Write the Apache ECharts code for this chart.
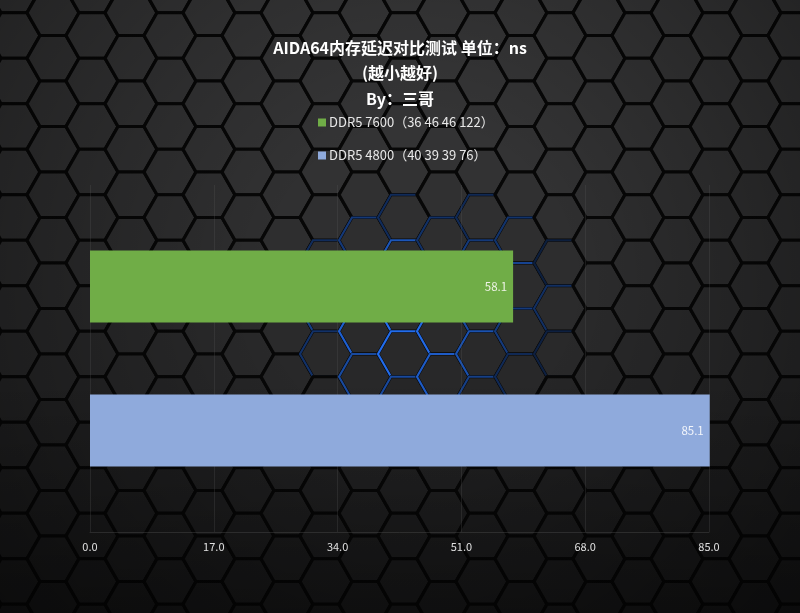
<!DOCTYPE html>
<html>
<head>
<meta charset="utf-8">
<script src="https://cdn.jsdelivr.net/npm/echarts@6.0.0/dist/echarts.min.js"></script>
<style>
html,body{margin:0;padding:0;background:#111;}
#wrap{position:relative;width:800px;height:613px;overflow:hidden;}
#bg{position:absolute;left:0;top:0;}
#chart{position:absolute;left:0;top:0;width:800px;height:613px;}
</style>
</head>
<body>
<div id="wrap">
<canvas id="bg" width="800" height="613"></canvas>
<div id="chart"></div>
</div>
<script>
// ---- data ----
const categories = ['内存延迟'];
const seriesNames = ['DDR5 7600（36 46 46 122）', 'DDR5 4800（40 39 39 76）'];
const values7600 = [58.1];
const values4800 = [85.1];
const axisMin = 0;
const axisMax = 85;
const axisInterval = 17;
const titleLines = ['AIDA64内存延迟对比测试 单位：ns', '(越小越好)', 'By：三哥'];

// ---- decorative hexagon background ----
(function drawBg(){
  const c = document.getElementById('bg');
  const ctx = c.getContext('2d');
  const W = 800, H = 613;
  ctx.fillStyle = '#050505';
  ctx.fillRect(0,0,W,H);
  const R = 26;
  const colStep = 1.5 * R;
  const rowStep = 45.5;
  const hh = rowStep / 2;
  function hexPath(cx, cy){
    ctx.beginPath();
    ctx.moveTo(cx - R, cy);
    ctx.lineTo(cx - R/2, cy - hh);
    ctx.lineTo(cx + R/2, cy - hh);
    ctx.lineTo(cx + R, cy);
    ctx.lineTo(cx + R/2, cy + hh);
    ctx.lineTo(cx - R/2, cy + hh);
    ctx.closePath();
  }
  const gcx = 440, gcy = 315;
  for (let col = -1; col < W / colStep + 2; col++) {
    for (let row = -1; row < H / rowStep + 2; row++) {
      const cx = col * colStep + 14;
      const cy = row * rowStep + (col % 2 ? hh : 0) - 10;
      const t = Math.min(1, Math.max(0, cy / H));
      const base = Math.round(58 - 30 * t);
      ctx.fillStyle = 'rgb(' + base + ',' + base + ',' + (base + 1) + ')';
      hexPath(cx, cy);
      ctx.fill();
      ctx.lineWidth = 3.2;
      ctx.strokeStyle = '#070707';
      ctx.stroke();
      const dx = (cx - gcx) / 140, dy = (cy - gcy) / 120;
      const d = Math.sqrt(dx*dx + dy*dy);
      if (d < 1) {
        const a = Math.min(1, 1.3 * Math.pow(1 - d, 0.5) * (0.5 + 0.5 * Math.abs(Math.sin(col * 12.9898 + row * 78.233))));
        ctx.lineWidth = 2.2;
        ctx.strokeStyle = 'rgba(35,110,240,' + a.toFixed(3) + ')';
        hexPath(cx, cy);
        ctx.stroke();
      }
    }
  }
  const g = ctx.createRadialGradient(420, 280, 150, 400, 300, 560);
  g.addColorStop(0, 'rgba(0,0,0,0)');
  g.addColorStop(1, 'rgba(0,0,0,0.45)');
  ctx.fillStyle = g;
  ctx.fillRect(0,0,W,H);
  const g2 = ctx.createLinearGradient(0, 380, 0, H);
  g2.addColorStop(0, 'rgba(0,0,0,0)');
  g2.addColorStop(1, 'rgba(0,0,0,0.35)');
  ctx.fillStyle = g2;
  ctx.fillRect(0,380,W,H-380);
})();

// ---- chart ----
const chart = echarts.init(document.getElementById('chart'), null, {renderer: 'canvas'});
const FONT = '"Noto Sans CJK SC", "Noto Sans", sans-serif';
const option = {
  backgroundColor: 'transparent',
  animation: false,
  textStyle: { fontFamily: FONT },
  title: {
    text: titleLines.join('\n'),
    left: 'center',
    top: 30,
    textStyle: {
      color: '#ffffff',
      fontSize: 16,
      fontWeight: 'bold',
      lineHeight: 25.5,
      fontFamily: FONT
    }
  },
  legend: {
    orient: 'vertical',
    left: 313,
    top: 111,
    itemWidth: 8,
    itemHeight: 8,
    itemGap: 20,
    icon: 'rect',
    data: seriesNames,
    textStyle: { color: '#e8e8e8', fontSize: 13, fontFamily: FONT, padding: [0,0,0,-2] }
  },
  grid: {
    left: 90,
    right: 91,
    top: 185,
    bottom: 81,
    containLabel: false
  },
  xAxis: {
    type: 'value',
    min: axisMin,
    max: axisMax,
    interval: axisInterval,
    axisLine: { show: true, lineStyle: { color: 'rgba(90,90,90,0.35)', width: 1 } },
    axisTick: { show: false },
    splitLine: { show: true, lineStyle: { color: 'rgba(90,90,90,0.25)', width: 1 } },
    axisLabel: {
      color: '#e0e0e0',
      fontSize: 11,
      margin: 9,
      fontFamily: FONT,
      formatter: function (v) { return v.toFixed(1); }
    }
  },
  yAxis: {
    type: 'category',
    data: categories,
    inverse: true,
    axisLine: { show: false },
    axisTick: { show: false },
    axisLabel: { show: false },
    splitLine: { show: false }
  },
  series: [
    {
      name: seriesNames[0],
      type: 'bar',
      data: values7600,
      barWidth: 72,
      barGap: '100%',
      clip: false,
      itemStyle: { color: '#70ad47' },
      label: {
        show: true,
        position: 'insideRight',
        distance: 6,
        color: '#eef3e6',
        fontSize: 11.5,
        fontFamily: FONT,
        formatter: function (p) { return p.value.toFixed(1); }
      }
    },
    {
      name: seriesNames[1],
      type: 'bar',
      data: values4800,
      barWidth: 72,
      barGap: '100%',
      clip: false,
      itemStyle: { color: '#8faadc' },
      label: {
        show: true,
        position: 'insideRight',
        distance: 6,
        color: '#f2f5fb',
        fontSize: 11.5,
        fontFamily: FONT,
        formatter: function (p) { return p.value.toFixed(1); }
      }
    }
  ]
};
chart.setOption(option);
</script>
</body>
</html>
